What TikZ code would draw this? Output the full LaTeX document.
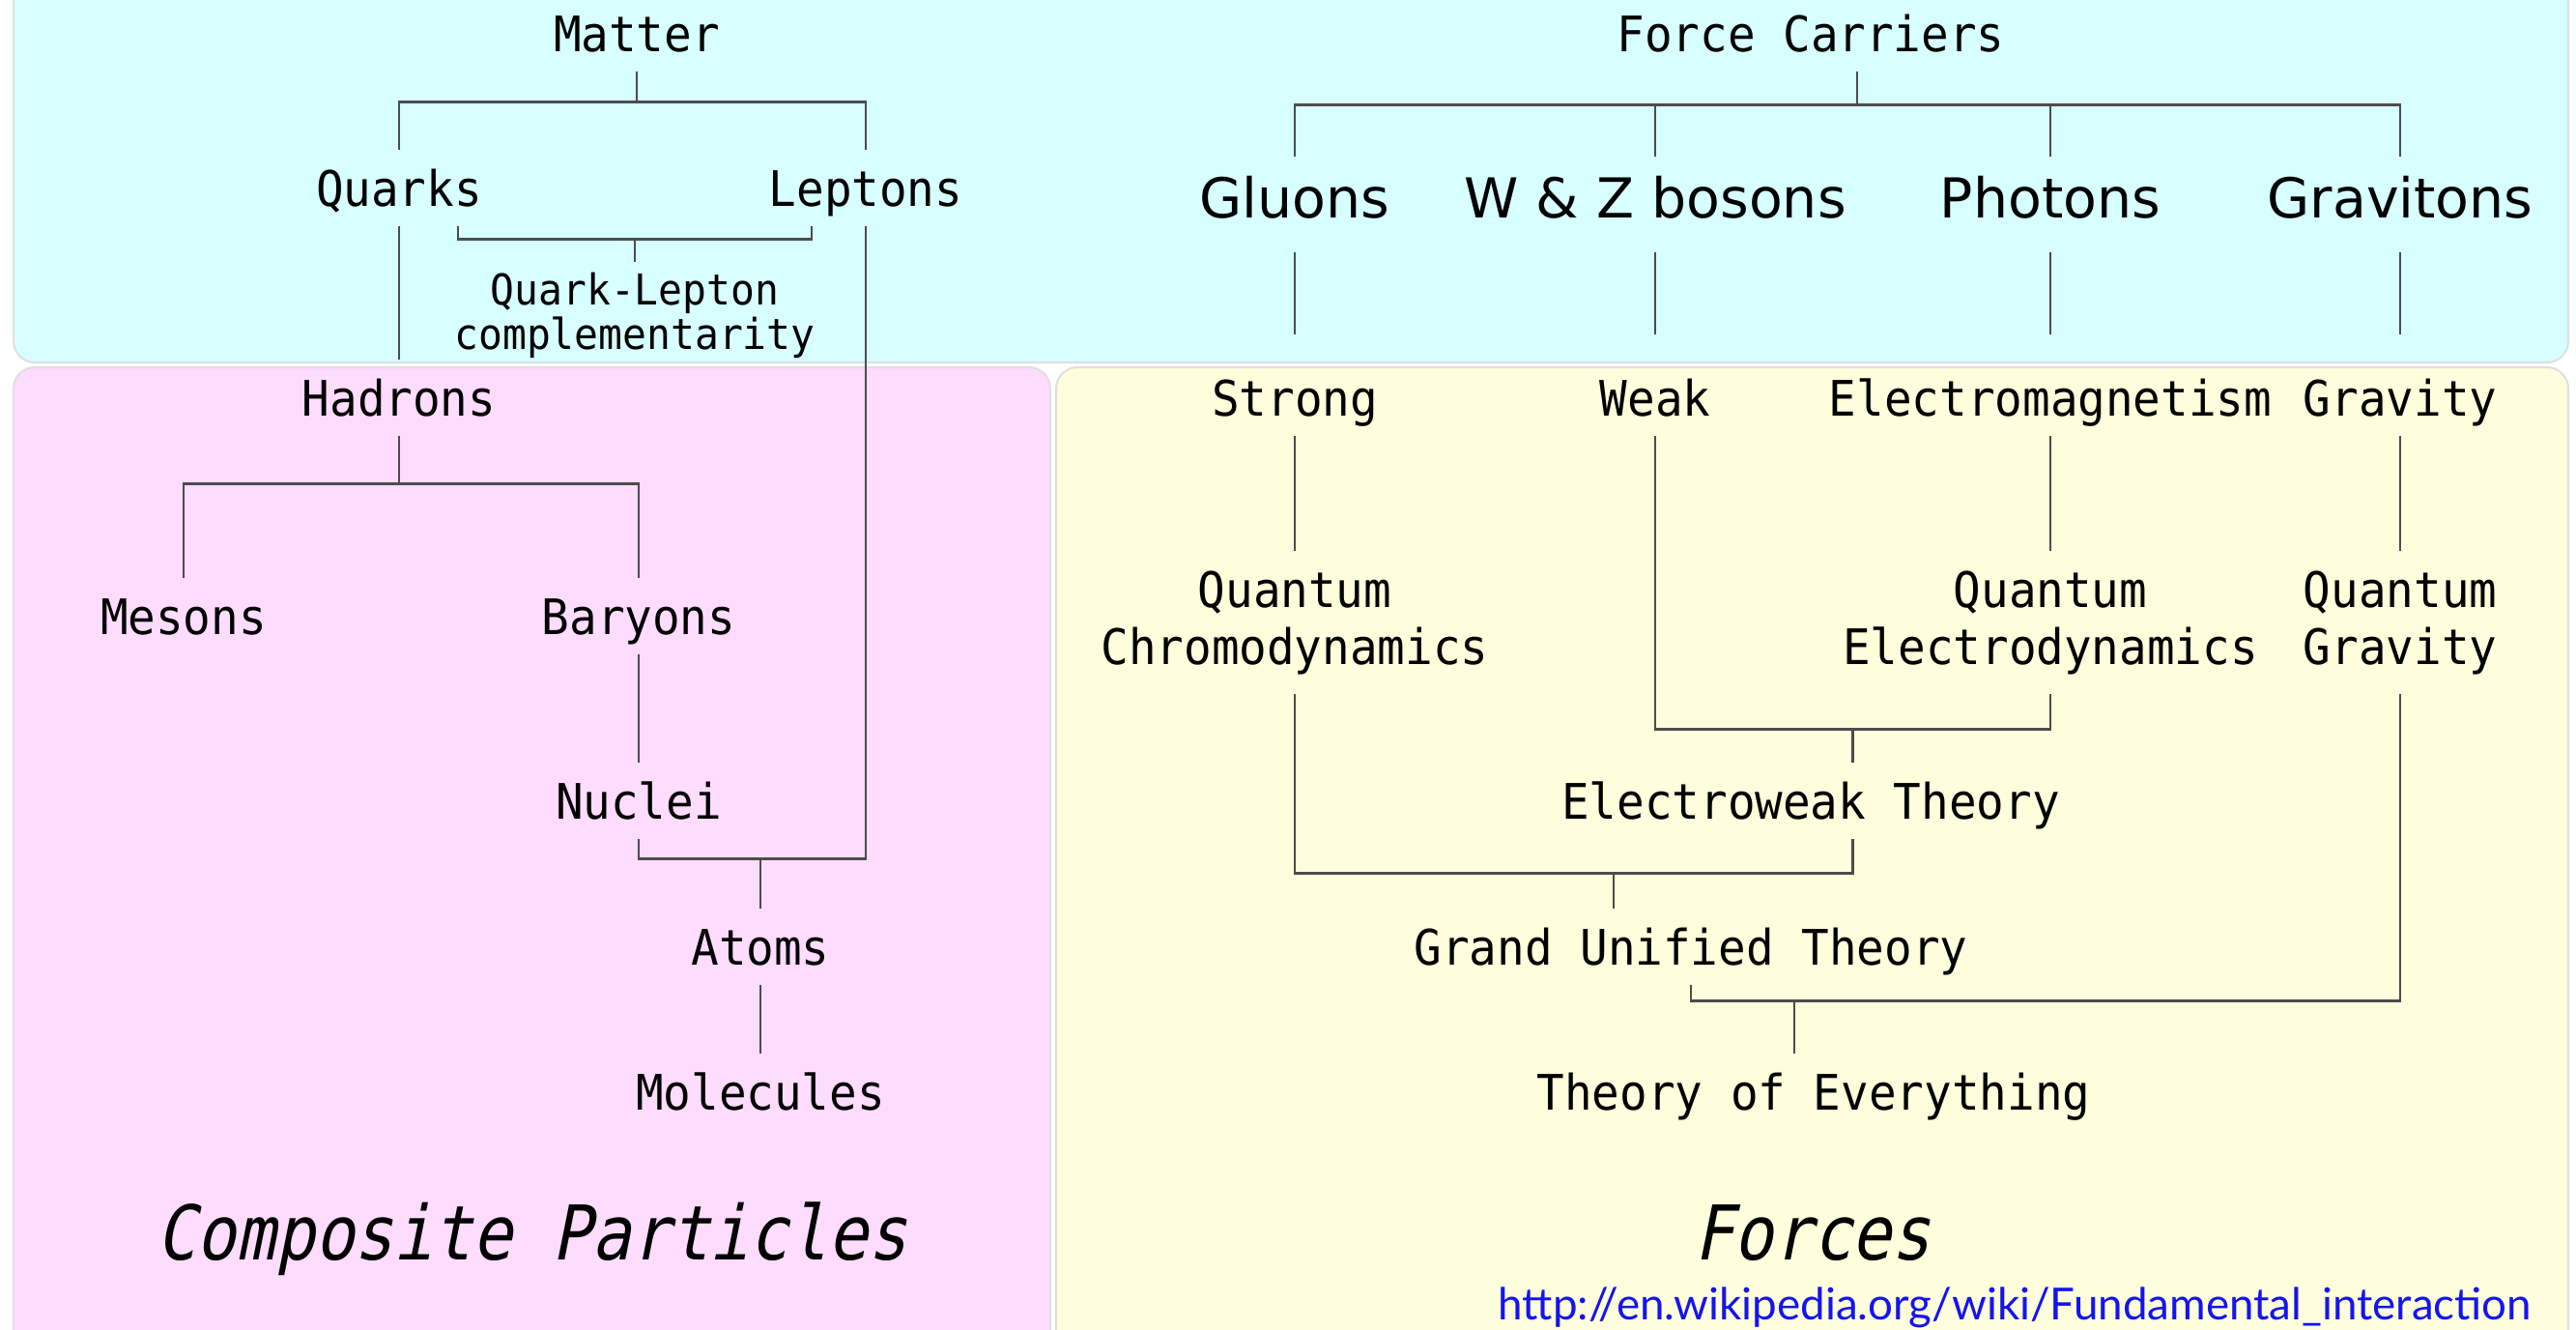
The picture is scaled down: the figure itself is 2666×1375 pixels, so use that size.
\documentclass[tikz,border=0pt]{standalone}
\usepackage{fontspec}
\usepackage{tikz}
\usetikzlibrary{positioning,calc}
\newfontfamily\diagmono[FakeStretch=0.94]{DejaVu Sans Mono}
\newfontfamily\diagtitle[FakeStretch=0.87,FakeSlant=0.2]{DejaVu Sans Mono}
\newfontfamily\diagsans{DejaVu Sans}
\newfontfamily\diaglink{Lato}
\definecolor{matterbg}{RGB}{215,255,255}
\definecolor{compbg}{RGB}{254,220,254}
\definecolor{forcebg}{RGB}{254,254,220}
\definecolor{edgegray}{RGB}{224,224,224}
\definecolor{linkblue}{RGB}{20,20,240}

\begin{document}
\begin{tikzpicture}[
  x=0.01cm, y=-0.01cm,
  every node/.style={inner xsep=2pt},
  lbl/.style={font=\diagmono\fontsize{14.4}{16.8}\selectfont, text height=0.37cm, text depth=0pt, inner ysep=0.2cm},
  twolbl/.style={font=\diagmono\fontsize{14.4}{16.8}\selectfont, align=center, inner ysep=0.2cm},
  smalllbl/.style={font=\diagmono\fontsize{12.5}{13.1}\selectfont, align=center, inner ysep=0.1cm},
  carrier/.style={font=\diagsans\fontsize{16.2}{19}\selectfont, text height=0.42cm, text depth=0pt, inner ysep=0.2cm},
  grouptitle/.style={font=\diagtitle\fontsize{22.2}{26}\selectfont, inner sep=0pt},
  panel/.style={draw=edgegray, line width=0.6pt, rounded corners=0.22cm},
  link/.style={draw=black!70, line width=0.75pt},
]
\useasboundingbox (0,0) rectangle (2666,1375);

% --- Panels ----------------------------------------------------
\path[panel, fill=matterbg] (14,-40) rectangle (2658,375);
\path[panel, fill=compbg] (14,380) rectangle (1087,1400);
\path[panel, fill=forcebg] (1093,380) rectangle (2658,1400);

% --- Nodes -----------------------------------------------------
% Matter / composite particles (left)
\node[lbl, anchor=base] (matter) at (659,53) {Matter};
\node[lbl, anchor=base] (quarks) at (413,213) {Quarks};
\node[lbl, anchor=base] (leptons) at (896,213) {Leptons};
\node[smalllbl] (qlc) at (657,326) {Quark-Lepton\\complementarity};
\node[lbl, anchor=base] (hadrons) at (413,430) {Hadrons};
\node[lbl, anchor=base] (mesons) at (190,656) {Mesons};
\node[lbl, anchor=base] (baryons) at (661,656) {Baryons};
\node[lbl, anchor=base] (nuclei) at (661,847) {Nuclei};
\node[lbl, anchor=base] (atoms) at (787,998) {Atoms};
\node[lbl, anchor=base] (molecules) at (787,1148) {Molecules};
\node[grouptitle, anchor=base] (composite) at (551,1303) {Composite Particles};

% Force carriers / forces (right)
\node[lbl, anchor=base] (carriers) at (1874,53) {Force Carriers};
\node[carrier, anchor=base] (gluons) at (1340,225) {Gluons};
\node[carrier, anchor=base] (wzbosons) at (1713,225) {W \& Z bosons};
\node[carrier, anchor=base] (photons) at (2122,225) {Photons};
\node[carrier, anchor=base] (gravitons) at (2484,225) {Gravitons};
\node[lbl, anchor=base] (strong) at (1340,430) {Strong};
\node[lbl, anchor=base] (weak) at (1713,430) {Weak};
\node[lbl, anchor=base] (em) at (2122,430) {Electromagnetism};
\node[lbl, anchor=base] (gravity) at (2484,430) {Gravity};
\node[twolbl] (qcd) at (1340,644) {Quantum\\Chromodynamics};
\node[twolbl] (qed) at (2122,644) {Quantum\\Electrodynamics};
\node[twolbl] (qg) at (2484,644) {Quantum\\Gravity};
\node[lbl, anchor=base] (ew) at (1874,847) {Electroweak Theory};
\node[lbl, anchor=base] (gut) at (1750,998) {Grand Unified Theory};
\node[lbl, anchor=base] (toe) at (1877,1148) {Theory of Everything};
\node[grouptitle, anchor=base] (forces) at (1876,1303) {Forces};

% Source
\node[anchor=base west, inner sep=0pt, text=linkblue, font=\diaglink\fontsize{13}{15}\selectfont] (source) at (1550,1365) {http://en.wikipedia.org/wiki/Fundamental\_interaction};

% --- Matter tree -----------------------------------------------
\draw[link] (matter.south) -- ++(0,32) coordinate (mbar);
\draw[link] (quarks.north) |- (mbar) -| (leptons.north);
\draw[link] ([xshift=0.61cm]quarks.south) -- ++(0,14) coordinate (qbar) -| ([xshift=-0.56cm]leptons.south);
\draw[link] (qlc.north) -- (qlc.north |- qbar);
\draw[link] (quarks.south) -- (hadrons.north);
\draw[link] (hadrons.south) -- ++(0,50) coordinate (hbar);
\draw[link] (mesons.north) |- (hbar) -| (baryons.north);
\draw[link] (baryons.south) -- (nuclei.north);
\draw[link] (nuclei.south) -- ++(0,21) coordinate (nbar) -| (leptons.south);
\draw[link] (atoms.north) -- (atoms.north |- nbar);
\draw[link] (atoms.south) -- (molecules.north);

% --- Force tree ------------------------------------------------
\draw[link] ([xshift=0.48cm]carriers.south) -- ++(0,35) coordinate (fbar);
\draw[link] (gluons.north) |- (fbar) -| (gravitons.north);
\draw[link] (wzbosons.north) -- (wzbosons.north |- fbar);
\draw[link] (photons.north) -- (photons.north |- fbar);

% carriers down to their forces
\draw[link, shorten <=0.15cm, shorten >=0.26cm] (gluons.south) -- (strong.north);
\draw[link, shorten <=0.15cm, shorten >=0.26cm] (wzbosons.south) -- (weak.north);
\draw[link, shorten <=0.15cm, shorten >=0.26cm] (photons.south) -- (em.north);
\draw[link, shorten <=0.15cm, shorten >=0.26cm] (gravitons.south) -- (gravity.north);

% forces to theories
\draw[link] (strong.south) -- (qcd.north);
\draw[link] (em.south) -- (qed.north);
\draw[link] (gravity.south) -- (qg.north);
\draw[link] (qed.south) -- ++(0,36) coordinate (ewbar) -| (weak.south);
\coordinate (ewmid) at ($(weak.south |- ewbar)!0.5!(ewbar)$);
\draw[link] (ewmid) -- (ewmid |- ew.north);
\draw[link] (ewmid |- ew.south) -- ++(0,36) coordinate (gbar) -| (qcd.south);
\draw[link] ([xshift=-0.8cm]gut.north) -- ([xshift=-0.8cm]gut.north |- gbar);
\draw[link] (gut.south) -- ++(0,17) coordinate (tbar) -| (qg.south);
\draw[link] ([xshift=-0.2cm]toe.north) -- ([xshift=-0.2cm]toe.north |- tbar);

\end{tikzpicture}
\end{document}
